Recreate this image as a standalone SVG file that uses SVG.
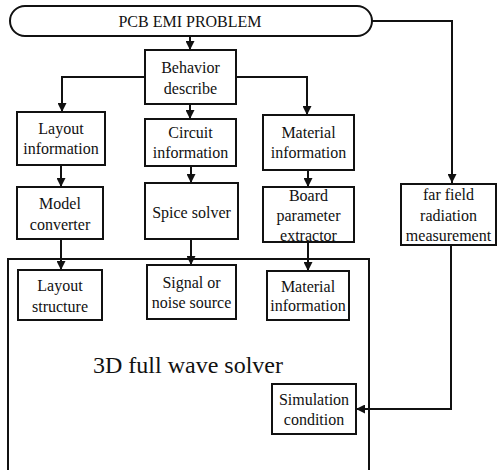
<svg xmlns="http://www.w3.org/2000/svg" width="498" height="470" viewBox="0 0 498 470">
  <style>
    .box { fill: none; stroke: #111; stroke-width: 2; }
    .wire { fill: none; stroke: #111; stroke-width: 2; }
    text { font-family: "Liberation Serif", "Times New Roman", serif; font-size: 16px; fill: #111; text-anchor: middle; }
    .big { font-size: 24px; text-anchor: start; }
  </style>
  <defs>
    <marker id="arrow" viewBox="0 0 10 10" refX="10" refY="5" markerWidth="4.5" markerHeight="4.5" orient="auto" markerUnits="strokeWidth">
      <path d="M0,0 L10,5 L0,10 Z" fill="#111"/>
    </marker>
  </defs>
  <rect width="498" height="470" fill="#fff"/>

  <!-- solver enclosure (open at the bottom edge) -->
  <g id="solver">
    <rect class="box" x="8" y="259" width="361" height="220"/>
    <text class="big" x="93" y="373">3D full wave solver</text>
  </g>

  <g id="connectors">
    <path class="wire" d="M190,36 V50" marker-end="url(#arrow)"/>
    <path class="wire" d="M372,21 H452 V183" marker-end="url(#arrow)"/>
    <path class="wire" d="M145,77 H62 V112" marker-end="url(#arrow)"/>
    <path class="wire" d="M236,77 H307 V115" marker-end="url(#arrow)"/>
    <path class="wire" d="M190,104 V119" marker-end="url(#arrow)"/>
    <path class="wire" d="M61,165 V187" marker-end="url(#arrow)"/>
    <path class="wire" d="M191,166 V183" marker-end="url(#arrow)"/>
    <path class="wire" d="M308,170 V187" marker-end="url(#arrow)"/>
    <path class="wire" d="M61,239 V270" marker-end="url(#arrow)"/>
    <path class="wire" d="M191,239 V265" marker-end="url(#arrow)"/>
    <path class="wire" d="M308,242 V271" marker-end="url(#arrow)"/>
    <path class="wire" d="M451,245 V409 H356" marker-end="url(#arrow)"/>
  </g>

  <g id="pcb-emi-problem">
    <rect class="box" x="10" y="6" width="362" height="30" rx="15" ry="15"/>
    <text x="190" y="27">PCB EMI PROBLEM</text>
  </g>

  <g id="behavior-describe">
    <rect class="box" x="145" y="50" width="91" height="54"/>
    <text x="190.5" y="73">Behavior</text>
    <text x="190.5" y="94">describe</text>
  </g>

  <g id="layout-information">
    <rect class="box" x="17" y="112" width="88" height="53"/>
    <text x="61" y="134">Layout</text>
    <text x="61" y="154">information</text>
  </g>

  <g id="circuit-information">
    <rect class="box" x="145" y="119" width="91" height="47"/>
    <text x="190.5" y="138">Circuit</text>
    <text x="190.5" y="158">information</text>
  </g>

  <g id="material-information">
    <rect class="box" x="263" y="115" width="91" height="55"/>
    <text x="308.5" y="138">Material</text>
    <text x="308.5" y="158">information</text>
  </g>

  <g id="model-converter">
    <rect class="box" x="17" y="187" width="86" height="52"/>
    <text x="60" y="209">Model</text>
    <text x="60" y="230">converter</text>
  </g>

  <g id="spice-solver">
    <rect class="box" x="145" y="183" width="93" height="56"/>
    <text x="191.5" y="218">Spice solver</text>
  </g>

  <g id="board-parameter-extractor">
    <rect class="box" x="263" y="187" width="91" height="55"/>
    <text x="308.5" y="201">Board</text>
    <text x="308.5" y="221">parameter</text>
    <text x="308.5" y="241">extractor</text>
  </g>

  <g id="far-field-measurement">
    <rect class="box" x="401" y="184" width="95" height="61"/>
    <text x="448.5" y="200">far field</text>
    <text x="448.5" y="221">radiation</text>
    <text x="448.5" y="241">measurement</text>
  </g>

  <g id="layout-structure">
    <rect class="box" x="18" y="270" width="84" height="50"/>
    <text x="60" y="291">Layout</text>
    <text x="60" y="312">structure</text>
  </g>

  <g id="signal-source">
    <rect class="box" x="147" y="265" width="89" height="54"/>
    <text x="191.5" y="288">Signal or</text>
    <text x="191.5" y="308">noise source</text>
  </g>

  <g id="material-information-2">
    <rect class="box" x="267" y="271" width="82" height="49"/>
    <text x="308" y="292">Material</text>
    <text x="308" y="311">information</text>
  </g>

  <g id="simulation-condition">
    <rect class="box" x="272" y="384" width="84" height="50"/>
    <text x="314" y="405">Simulation</text>
    <text x="314" y="425">condition</text>
  </g>
</svg>
